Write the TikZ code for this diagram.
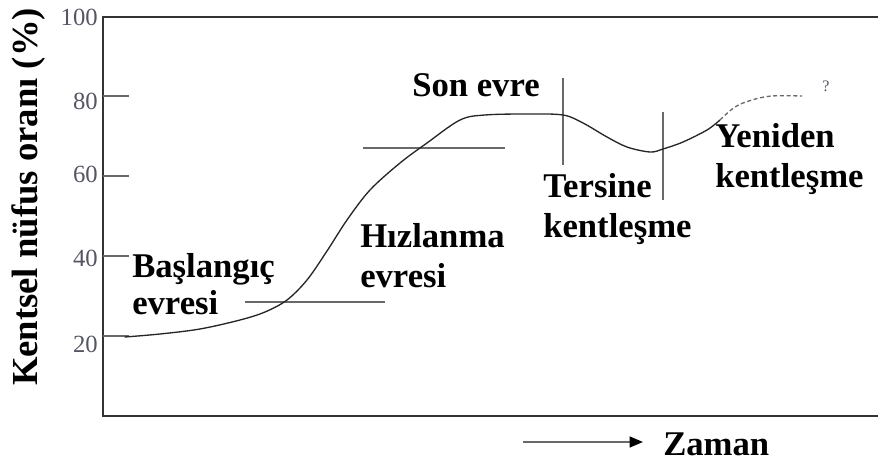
\documentclass[tikz,border=0pt]{standalone}
\usepackage{fontspec}
\setmainfont{Liberation Serif}
\usetikzlibrary{arrows.meta}
\definecolor{numgray}{RGB}{85,85,100}
\definecolor{markgray}{RGB}{105,105,105}
\tikzset{
  phase/.style={font=\fontsize{26}{30}\selectfont\bfseries, inner sep=0pt, anchor=base west},
  ticknum/.style={font=\fontsize{18.5}{20}\selectfont, text=numgray, inner sep=0pt, anchor=east},
  marker/.style={markgray, line width=1.2pt}
}
\begin{document}
\begin{tikzpicture}[x=0.75pt, y=-0.75pt]
    \useasboundingbox (0,0) rectangle (878,463);

    % Draw the frame
    \draw[line width=1.5pt, black!80] (878,17) -- (103,17) -- (103,416) -- (878,416);

    % Ticks and their numbers
    \node[ticknum] (n100) at (98,17) {100};
    \foreach \v/\ly in {80/101, 60/174, 40/258, 20/344} {
        \draw[marker] (103, 416-4*\v) -- (129, 416-4*\v);
        \node[ticknum] (n\v) at (98,\ly) {\v};
    }

    % Label the axis
    \node[rotate=90, anchor=base, inner sep=0pt, font=\fontsize{27.5}{30}\selectfont\bfseries] (ylab) at (37,197) {Kentsel nüfus oranı (\%)};

    % Phase markers
    \draw[marker] (245,302) -- (385,302);
    \draw[marker] (363,148) -- (505,148);
    \draw[marker] (563,78) -- (563,165);
    \draw[marker] (663,112) -- (663,200);

    % The curve
    \draw[line width=1pt, black!85, line cap=round] plot[smooth, tension=0.55] coordinates {
        (125,337) (160,334) (200,329) (240,320) (265,312) (287,300) (307,280)
        (327,251) (347,220) (370,190) (400,163) (427,143) (460,120) (485,115)
        (527,114) (563,115) (583,123) (607,137) (627,147) (650,152) (663,149)
        (683,142) (707,130) (720,120)};
    \draw[line width=1pt, markgray, dash pattern=on 3pt off 2pt] plot[smooth, tension=0.6] coordinates {
        (720,120) (735,107) (752,100) (772,96) (802,96)};
    \node[font=\fontsize{12}{14}\selectfont, text=numgray, inner sep=0pt] (q) at (826,86) {?};

    % Phase names
    \node[phase] (bas1) at (132,277) {Başlangıç};
    \node[phase] (bas2) at ([yshift=-28.5pt]bas1.base west) {evresi};
    \node[phase] (hiz1) at (360,248) {Hızlanma};
    \node[phase] (hiz2) at ([yshift=-30pt]hiz1.base west) {evresi};
    \node[phase] (son) at (412,97) {Son evre};
    \node[phase] (ter1) at (543,198) {Tersine};
    \node[phase] (ter2) at ([yshift=-30pt]ter1.base west) {kentleşme};
    \node[phase] (yen1) at (715,148) {Yeniden};
    \node[phase] (yen2) at ([yshift=-30pt]yen1.base west) {kentleşme};

    % Time arrow
    \coordinate (arrs) at (523,442);
    \coordinate (arre) at (643,442);
    \draw[line width=1.6pt, markgray, -{Triangle[color=black, length=10pt, width=8pt]}] (arrs) -- (arre);
    \node[phase] (zaman) at (663,455) {Zaman};
\end{tikzpicture}
\end{document}
